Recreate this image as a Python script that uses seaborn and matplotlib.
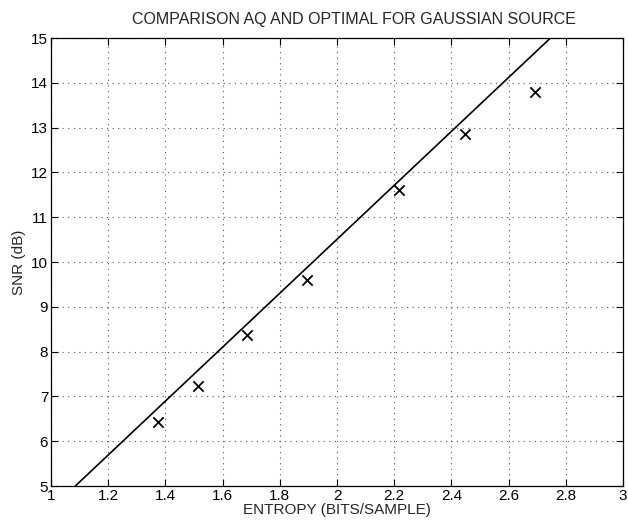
import matplotlib
matplotlib.use("Agg")
import matplotlib.pyplot as plt
import seaborn as sns
import pandas as pd

# Data
line_entropy = [1.085, 2.746]
line_snr = [5.0, 15.0]
aq_entropy = [1.375, 1.513, 1.684, 1.896, 2.218, 2.449, 2.692]
aq_snr = [6.42, 7.24, 8.38, 9.60, 11.61, 12.86, 13.79]
x_ticks = [1, 1.2, 1.4, 1.6, 1.8, 2, 2.2, 2.4, 2.6, 2.8, 3]
x_tick_labels = ["1", "1.2", "1.4", "1.6", "1.8", "2", "2.2", "2.4", "2.6", "2.8", "3"]
y_ticks = [5, 6, 7, 8, 9, 10, 11, 12, 13, 14, 15]
title = "COMPARISON AQ AND OPTIMAL FOR GAUSSIAN SOURCE"
x_label = "ENTROPY (BITS/SAMPLE)"
y_label = "SNR (dB)"

sns.set_theme(style="white")
plt.rcParams['font.family'] = ['Liberation Sans', 'DejaVu Sans']

line_df = pd.DataFrame({"H": line_entropy, "SNR": line_snr})
aq_df = pd.DataFrame({"H": aq_entropy, "SNR": aq_snr})

fig = plt.figure(figsize=(6.28, 5.23), dpi=100)
ax = fig.add_axes([0.0812, 0.0707, 0.911, 0.8566])

sns.lineplot(data=line_df, x="H", y="SNR", ax=ax, color="black", linewidth=1.2)
sns.scatterplot(data=aq_df, x="H", y="SNR", ax=ax, marker="x", color="black",
                s=55, linewidth=1.3)

ax.set_xlim(1, 3)
ax.set_ylim(5, 15)
ax.set_xticks(x_ticks)
ax.set_xticklabels(x_tick_labels)
ax.set_yticks(y_ticks)
ax.grid(True, linestyle=(0, (1, 4)), color="#555555", linewidth=0.8)
ax.tick_params(direction="in", length=5, width=0.8, colors="black",
               labelsize=11, top=True, right=True, bottom=True, left=True,
               pad=2)
for s in ax.spines.values():
    s.set_color("black")
    s.set_linewidth(0.9)

ax.set_xlabel(x_label, fontsize=11, labelpad=0)
ax.set_ylabel(y_label, fontsize=11, labelpad=4)
ax.set_title(title, fontsize=11.5, pad=10, x=0.53)

fig.savefig("out.png", dpi=100)
